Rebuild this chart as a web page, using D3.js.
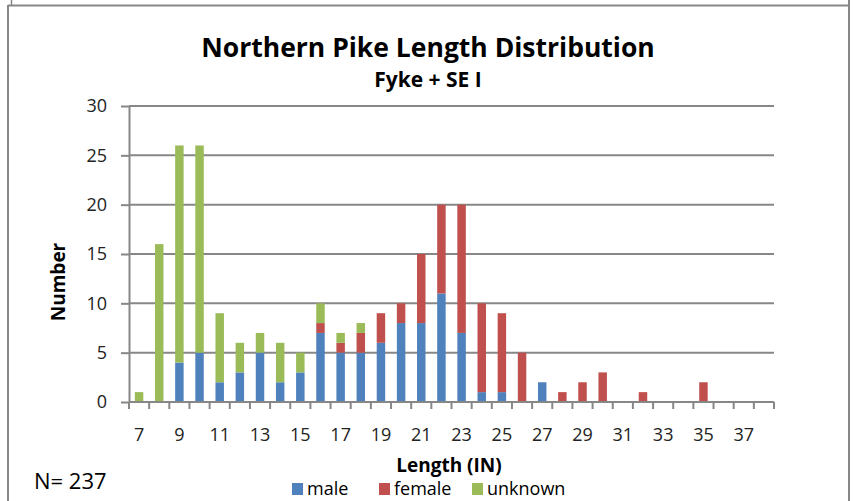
<!DOCTYPE html>
<html>
<head>
<meta charset="utf-8">
<script src="https://cdn.jsdelivr.net/npm/d3@7"></script>
<style>
  body { margin: 0; background: #fff; }
  svg { display: block; font-family: "Open Sans", sans-serif; }
</style>
</head>
<body>
<svg id="chart" width="861" height="501"></svg>
<script>
// lengths in inches, 7..38
var lengths = d3.range(7, 39);
var male =    [0, 0, 4, 5, 2, 3, 5, 2, 3, 7, 5, 5, 6, 8, 8, 11, 7, 1, 1, 0, 2, 0, 0, 0, 0, 0, 0, 0, 0, 0, 0, 0];
var female =  [0, 0, 0, 0, 0, 0, 0, 0, 0, 1, 1, 2, 3, 2, 7, 9, 13, 9, 8, 5, 0, 1, 2, 3, 0, 1, 0, 0, 2, 0, 0, 0];
var unknown = [1, 16, 22, 21, 7, 3, 2, 4, 2, 2, 1, 1, 0, 0, 0, 0, 0, 0, 0, 0, 0, 0, 0, 0, 0, 0, 0, 0, 0, 0, 0, 0];
var seriesNames = ['male', 'female', 'unknown'];
var yTicks = [0, 5, 10, 15, 20, 25, 30];

var colors = { male: '#4f81bd', female: '#c0504d', unknown: '#9bbb59' };
var grid = '#878787';

var svg = d3.select('#chart');

// frame lines
svg.append('line').attr('x1', 8).attr('x2', 850).attr('y1', 5.5).attr('y2', 5.5)
    .attr('stroke', grid).attr('stroke-width', 2);
svg.append('line').attr('x1', 8).attr('x2', 8).attr('y1', 5).attr('y2', 501)
    .attr('stroke', grid).attr('stroke-width', 2);
svg.append('line').attr('x1', 11.5).attr('x2', 11.5).attr('y1', 0).attr('y2', 5)
    .attr('stroke', grid).attr('stroke-width', 1.5);
svg.append('line').attr('x1', 849).attr('x2', 849).attr('y1', 0).attr('y2', 501)
    .attr('stroke', grid).attr('stroke-width', 2);

var plot = { left: 129, right: 774, top: 106, bottom: 402 };

var x = d3.scaleBand()
    .domain(lengths)
    .range([plot.left, plot.right])
    .paddingInner(0.58)
    .paddingOuter(0.29);

var y = d3.scaleLinear()
    .domain([0, 30])
    .range([plot.bottom, plot.top]);

// gridlines
svg.append('g')
    .selectAll('line')
    .data(yTicks.slice(1))
    .enter()
    .append('line')
    .attr('x1', plot.left)
    .attr('x2', plot.right)
    .attr('y1', function (d) { return y(d); })
    .attr('y2', function (d) { return y(d); })
    .attr('stroke', grid)
    .attr('stroke-width', 2);

// stacked bars
var rows = lengths.map(function (l, i) {
    return { len: l, male: male[i], female: female[i], unknown: unknown[i] };
});
var stacked = d3.stack().keys(seriesNames)(rows);

svg.append('g')
    .selectAll('g')
    .data(stacked)
    .enter()
    .append('g')
    .attr('fill', function (d) { return colors[d.key]; })
    .selectAll('rect')
    .data(function (d) { return d; })
    .enter()
    .append('rect')
    .attr('x', function (d) { return x(d.data.len); })
    .attr('width', x.bandwidth())
    .attr('y', function (d) { return y(d[1]); })
    .attr('height', function (d) { return y(d[0]) - y(d[1]); });

// y axis
var yAxis = d3.axisLeft(y).tickValues(yTicks).tickSize(8).tickPadding(14).tickSizeOuter(0);
var gy = svg.append('g')
    .attr('transform', 'translate(' + plot.left + ',0)')
    .call(yAxis);
gy.select('.domain').attr('stroke', grid).attr('stroke-width', 2);
gy.selectAll('.tick line').attr('stroke', grid).attr('stroke-width', 2);
gy.selectAll('.tick text')
    .attr('font-size', 18)
    .attr('font-family', '"Open Sans", sans-serif')
    .attr('fill', '#222');

// x axis: ticks at band edges, labels every other category
var edges = d3.range(lengths.length + 1).map(function (i) {
    return plot.left + i * (plot.right - plot.left) / lengths.length;
});
var gx = svg.append('g');
gx.append('line')
    .attr('x1', plot.left).attr('x2', plot.right)
    .attr('y1', plot.bottom).attr('y2', plot.bottom)
    .attr('stroke', grid).attr('stroke-width', 2);
gx.selectAll('line.tk')
    .data(edges)
    .enter()
    .append('line')
    .attr('class', 'tk')
    .attr('x1', function (d) { return d; })
    .attr('x2', function (d) { return d; })
    .attr('y1', plot.bottom)
    .attr('y2', plot.bottom + 7)
    .attr('stroke', grid)
    .attr('stroke-width', 2);
gx.selectAll('text')
    .data(lengths.filter(function (d, i) { return i % 2 === 0; }))
    .enter()
    .append('text')
    .attr('x', function (d) { return x(d) + x.bandwidth() / 2; })
    .attr('y', 441)
    .attr('text-anchor', 'middle')
    .attr('font-size', 18)
    .attr('fill', '#222')
    .text(function (d) { return d; });

// titles
svg.append('text')
    .attr('x', 428).attr('y', 57)
    .attr('text-anchor', 'middle')
    .attr('font-size', 26.5)
    .attr('font-weight', 'bold')
    .text('Northern Pike Length Distribution');
svg.append('text')
    .attr('x', 428).attr('y', 87)
    .attr('text-anchor', 'middle')
    .attr('font-size', 21)
    .attr('font-weight', 'bold')
    .text('Fyke + SE I');

svg.append('text')
    .attr('transform', 'translate(65,282) rotate(-90)')
    .attr('text-anchor', 'middle')
    .attr('font-size', 19)
    .attr('font-weight', 'bold')
    .text('Number');

svg.append('text')
    .attr('x', 449).attr('y', 472)
    .attr('text-anchor', 'middle')
    .attr('font-size', 19)
    .attr('font-weight', 'bold')
    .text('Length (IN)');

svg.append('text')
    .attr('x', 34).attr('y', 489)
    .attr('font-size', 22)
    .text('N= 237');

// legend
var legendX = [292, 379, 472];
var legend = svg.append('g')
    .selectAll('g')
    .data(seriesNames)
    .enter()
    .append('g')
    .attr('transform', function (d, i) { return 'translate(' + legendX[i] + ',483)'; });
legend.append('rect')
    .attr('width', 11).attr('height', 12)
    .attr('fill', function (d) { return colors[d]; });
legend.append('text')
    .attr('x', 15).attr('y', 12)
    .attr('font-size', 18)
    .text(function (d) { return d; });
</script>
</body>
</html>
